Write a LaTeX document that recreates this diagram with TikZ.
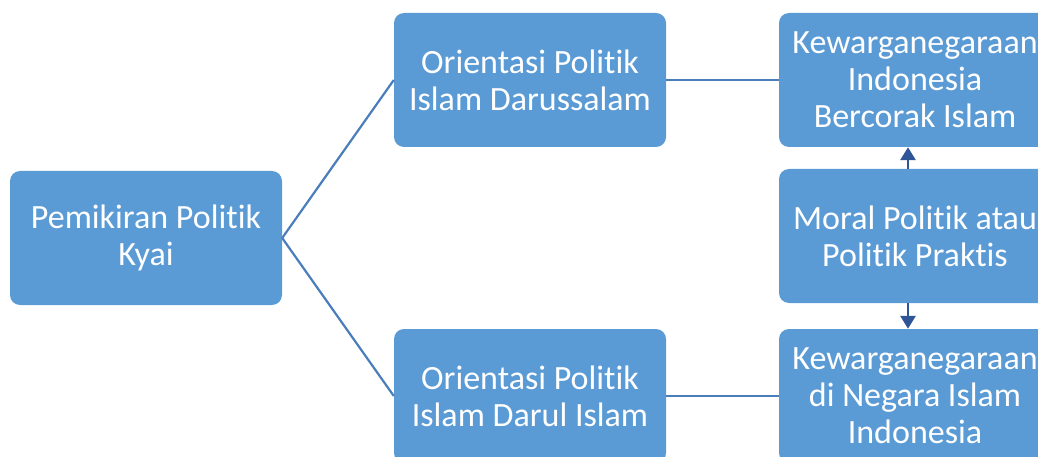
\documentclass[tikz,border=0pt]{standalone}
\usepackage{fontspec}
\setmainfont{Carlito}[RawFeature={-liga}]
\usetikzlibrary{arrows.meta}
\definecolor{boxfill}{HTML}{5B9BD5}
\definecolor{linkline}{HTML}{4A7EBB}
\definecolor{arrowline}{HTML}{2F5597}
\tikzset{
  box/.style={draw=none, fill=boxfill, rounded corners=10pt, minimum width=272pt, minimum height=134pt,
    text=white, align=center, inner sep=0pt, font=\fontsize{34}{37}\selectfont},
  link/.style={draw=linkline, line width=2.2pt},
  uparrow/.style={draw=arrowline, line width=2.8pt, -{Triangle[length=13pt,width=15pt]}}
}
\begin{document}
\begin{tikzpicture}[x=1pt,y=-1pt]
\useasboundingbox (0,0) rectangle (1038,457);
\clip (0,0) rectangle (1038,457);
\node[box] (A) at (146,238) {Pemikiran Politik\\Kyai};
\node[box] (B) at (530,80) {Orientasi Politik\\Islam Darussalam};
\node[box] (C) at (530,396) {Orientasi Politik\\Islam Darul Islam};
\node[box] (D) at (915,80) {Kewarganegaraan\\Indonesia\\Bercorak Islam};
\node[box] (E) at (915,236) {Moral Politik atau\\Politik Praktis};
\node[box] (F) at (915,396) {Kewarganegaraan\\di Negara Islam\\Indonesia};
\draw[link] (A.east) -- (B.west);
\draw[link] (A.east) -- (C.west);
\draw[link] (B.east) -- (D.west);
\draw[link] (C.east) -- (F.west);
\draw[uparrow] ([xshift=-7pt]E.north) -- ([xshift=-7pt]D.south);
\draw[uparrow] ([xshift=-7pt]E.south) -- ([xshift=-7pt]F.north);
\end{tikzpicture}
\end{document}
